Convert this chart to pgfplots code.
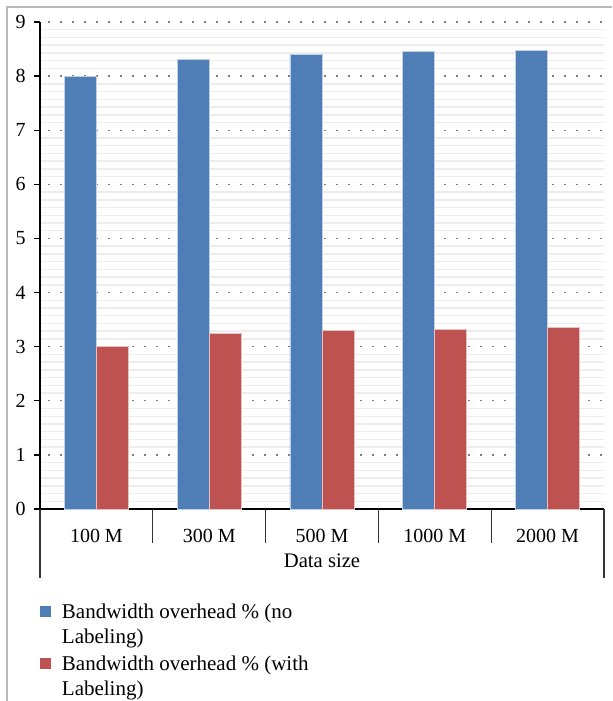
\documentclass[border=0pt]{standalone}
\usepackage{pgfplots}
\pgfplotsset{compat=1.18}
\usepackage{pgfplotstable}
\usepackage{fontspec}
\setmainfont{Liberation Serif}
\definecolor{barblue}{HTML}{4F7DB5}
\definecolor{barred}{HTML}{BE5250}

\pgfplotstableread{
x no with
0 8.00 3.00
1 8.30 3.25
2 8.40 3.30
3 8.45 3.32
4 8.48 3.35
}\datatable

\begin{document}
\begin{tikzpicture}[x=1pt,y=1pt]
\useasboundingbox (0,0) rectangle (459,525.75);
\draw[gray!55, line width=1.2pt] (5.25,0) -- (5.25,520.5) -- (459,520.5);
\begin{axis}[
  at={(30pt,144pt)}, anchor=south west,
  scale only axis, width=423pt, height=365.25pt,
  xmin=-0.5, xmax=4.5, ymin=0, ymax=9,
  enlargelimits=false,
  axis x line*=bottom, axis y line*=left,
  axis line style={black, line width=1.5pt},
  ytick={0,...,9},
  xtick={0,...,4},
  xticklabels={100 M,300 M,500 M,1000 M,2000 M},
  x tick style={draw=none},
  tick align=outside,
  major tick length=4.5pt,
  minor tick length=0pt,
  y tick style={black, line width=1pt},
  minor y tick num=6,
  ymajorgrids, yminorgrids,
  major grid style={gray, line width=1pt, dash pattern=on 1.5pt off 7.5pt, dash phase=-6pt},
  minor grid style={black!7, line width=1.1pt},
  tick label style={font=\fontsize{15}{17}\selectfont},
  /pgf/number format/assume math mode=true,
  yticklabel style={anchor=east, inner sep=0pt, xshift=-6pt},
  xticklabel style={anchor=base, inner sep=0pt, yshift=-20.25pt},
  xlabel={Data size},
  xlabel style={at={(axis description cs:0.5,0)}, anchor=base, inner sep=0pt, yshift=-43.5pt, font=\fontsize{15.5}{17}\selectfont},
  legend style={at={(axis description cs:-0.0071,-0.184)}, anchor=north west, draw=none, fill=none,
    font=\fontsize{15.75}{17.6}\selectfont, nodes={align=left}, row sep=3.75pt},
  legend cell align=left,
  legend image code/.code={\fill[#1, draw=none] (0pt,5.6pt) rectangle (8.25pt,13.85pt); \path[draw=none, fill=none] (0pt,9pt) -- (14.25pt,9pt);},
]
\addplot[ybar, bar width=24pt, bar shift=-12pt, fill=barblue, draw=white!65!barblue, line width=0.6pt]
  table[x=x, y=no]{\datatable};
\addlegendentry{Bandwidth overhead \% (no\\[1.1pt]Labeling)}
\addplot[ybar, bar width=24pt, bar shift=12pt, fill=barred, draw=white!65!barred, line width=0.6pt]
  table[x=x, y=with]{\datatable};
\addlegendentry{Bandwidth overhead \% (with\\[1.1pt]Labeling)}
\end{axis}
\foreach \k in {1,2,3,4} {
  \draw[black!80, line width=1pt] (30+84.6*\k,144) -- (30+84.6*\k,118.5);
}
\draw[black!80, line width=1pt] (30,144) -- (30,92.25);
\draw[black!80, line width=1pt] (453,144) -- (453,92.25);
\end{tikzpicture}
\end{document}
